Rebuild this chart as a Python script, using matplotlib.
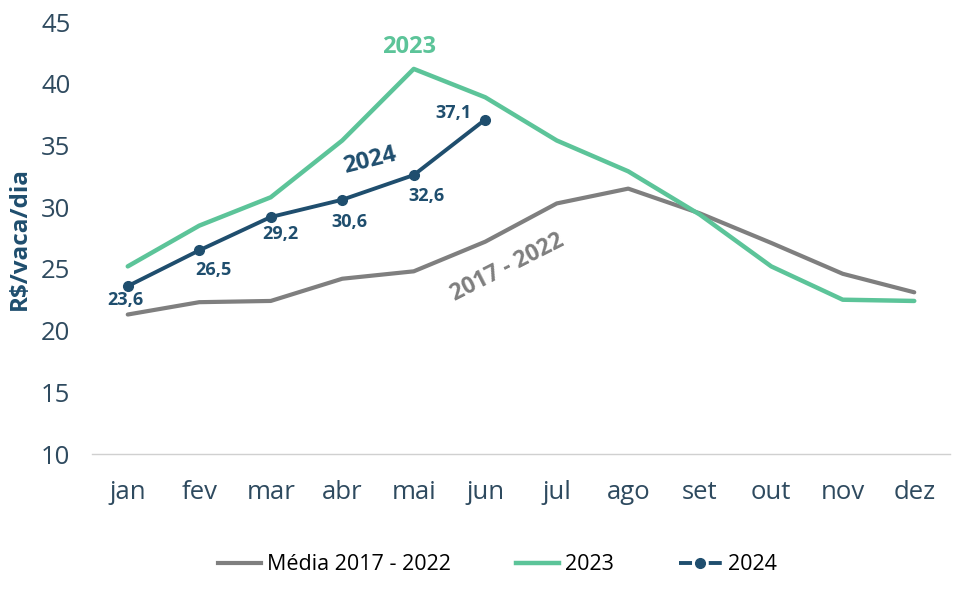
import matplotlib.pyplot as plt
from matplotlib.lines import Line2D

plt.rcParams['font.family'] = ['Open Sans', 'DejaVu Sans']

meses = ['jan', 'fev', 'mar', 'abr', 'mai', 'jun', 'jul', 'ago', 'set', 'out', 'nov', 'dez']
media_2017_2022 = [21.3, 22.3, 22.4, 24.2, 24.8, 27.2, 30.3, 31.5, 29.5, 27.1, 24.6, 23.1]
ano_2023 = [25.2, 28.5, 30.8, 35.4, 41.2, 38.9, 35.4, 32.9, 29.4, 25.2, 22.5, 22.4]
ano_2024 = [23.6, 26.5, 29.2, 30.6, 32.6, 37.1]
rotulos_2024 = ['23,6', '26,5', '29,2', '30,6', '32,6', '37,1']

cinza = '#7f7f7f'
verde = '#5cc499'
azul = '#1f4e6e'
texto = '#2e4a5f'

fig = plt.figure(figsize=(9.75, 6.1), dpi=100)
ax = fig.add_axes([92 / 975, 1 - 454 / 610, (950 - 92) / 975, (454 - 22) / 610])

x = list(range(len(meses)))
ax.plot(x, media_2017_2022, color=cinza, lw=3, solid_capstyle='round')
ax.plot(x, ano_2023, color=verde, lw=3.2, solid_capstyle='round')
ax.plot(x[:len(ano_2024)], ano_2024, color=azul, lw=2.8, marker='o', ms=7)

# rótulos dos pontos de 2024
offsets = [(-2, -10), (10, -14.5), (7, -12.5), (5, -16), (9, -15), (-23, 4.5)]
for i, (v, r) in enumerate(zip(ano_2024, rotulos_2024)):
    ax.annotate(r, (i, v), xytext=offsets[i], textcoords='offset points',
                ha='center', va='center', fontsize=13, fontweight='bold', color=azul)

ax.text(3.93, 43.0, '2023', color=verde, fontsize=17, fontweight='bold', ha='center', va='center')
ax.text(3.38, 33.8, '2024', color=azul, fontsize=17, fontweight='bold', ha='center', va='center', rotation=14)
ax.text(5.31, 25.1, '2017 - 2022', color=cinza, fontsize=16.5, fontweight='bold', ha='center', va='center', rotation=27)

ax.set_xlim(-0.5, 11.5)
ax.set_ylim(10, 45)
ax.set_xticks(x)
ax.set_xticklabels(meses)
ax.set_yticks(range(10, 46, 5))
ax.tick_params(length=0, labelsize=18.5, colors=texto)
ax.tick_params(axis='x', pad=19)
ax.tick_params(axis='y', pad=15.5)
for s in ['top', 'right', 'left']:
    ax.spines[s].set_visible(False)
ax.spines['bottom'].set_color('#d0d0d0')
ax.spines['bottom'].set_linewidth(1)
ax.set_ylabel('R$/vaca/dia', fontsize=17.5, fontweight='bold', color=azul, labelpad=7)

handles = [
    Line2D([], [], color=cinza, lw=3),
    Line2D([], [], color=verde, lw=3.2),
    Line2D([], [], color=azul, lw=2.8, ls=(0, (3.35, 4.3)), marker='o', ms=7),
]
fig.legend(handles, ['Média 2017 - 2022', '2023', '2024'], loc='center', bbox_to_anchor=(0.51, 1 - 565 / 610),
           ncol=3, frameon=False, fontsize=15.5, handlelength=2.0, handletextpad=0.3, columnspacing=3.0)

fig.savefig('out.png', dpi=100)
